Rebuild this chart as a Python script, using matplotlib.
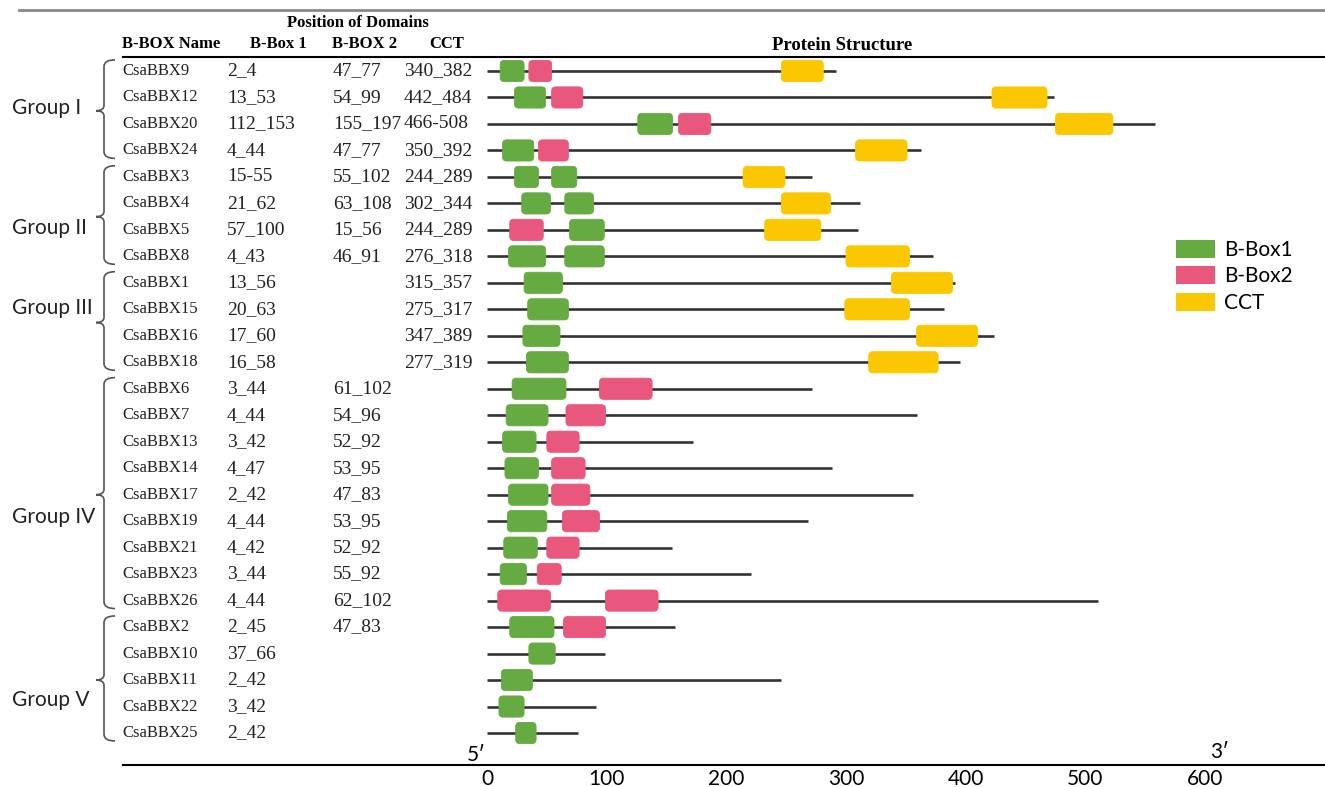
import numpy as np
import matplotlib
matplotlib.use("Agg")
import matplotlib.pyplot as plt
from matplotlib.patches import FancyBboxPatch, Patch, PathPatch
from matplotlib.path import Path
from matplotlib.lines import Line2D
import matplotlib.transforms as mtransforms

# table data
names = ["CsaBBX9", "CsaBBX12", "CsaBBX20", "CsaBBX24",
         "CsaBBX3", "CsaBBX4", "CsaBBX5", "CsaBBX8",
         "CsaBBX1", "CsaBBX15", "CsaBBX16", "CsaBBX18",
         "CsaBBX6", "CsaBBX7", "CsaBBX13", "CsaBBX14", "CsaBBX17",
         "CsaBBX19", "CsaBBX21", "CsaBBX23", "CsaBBX26",
         "CsaBBX2", "CsaBBX10", "CsaBBX11", "CsaBBX22", "CsaBBX25"]
box1_txt = ["2_4", "13_53", "112_153", "4_44",
            "15-55", "21_62", "57_100", "4_43",
            "13_56", "20_63", "17_60", "16_58",
            "3_44", "4_44", "3_42", "4_47", "2_42",
            "4_44", "4_42", "3_44", "4_44",
            "2_45", "37_66", "2_42", "3_42", "2_42"]
box2_txt = ["47_77", "54_99", "155_197", "47_77",
            "55_102", "63_108", "15_56", "46_91",
            "", "", "", "",
            "61_102", "54_96", "52_92", "53_95", "47_83",
            "53_95", "52_92", "55_92", "62_102",
            "47_83", "", "", "", ""]
cct_txt = ["340_382", "442_484", "466-508", "350_392",
           "244_289", "302_344", "244_289", "276_318",
           "315_357", "275_317", "347_389", "277_319",
           "", "", "", "", "", "", "", "", "",
           "", "", "", "", ""]

groups = ["Group I", "Group II", "Group III", "Group IV", "Group V"]
group_rows = [(0, 3), (4, 7), (8, 11), (12, 20), (21, 25)]

# protein structure as drawn (aa scale)
prot_len = [292, 474, 558, 363, 272, 312, 310, 373, 391, 382, 424, 395,
            272, 359, 172, 288, 356, 268, 155, 221, 511, 157, 99, 246, 91, 76]
green_dom = [[(11, 31)], [(23, 49)], [(126, 155)], [(13, 39)],
             [(23, 43), (54, 75)], [(29, 53), (65, 89)], [(69, 98)], [(18, 49), (65, 98)],
             [(31, 63)], [(34, 68)], [(30, 61)], [(33, 68)],
             [(21, 66)], [(16, 51)], [(13, 41)], [(15, 43)], [(18, 51)],
             [(17, 50)], [(14, 42)], [(11, 33)], [],
             [(19, 56)], [(35, 57)], [(12, 38)], [(10, 31)], [(24, 41)]]
pink_dom = [[(35, 54)], [(54, 80)], [(160, 187)], [(43, 68)],
            [], [], [(19, 47)], [],
            [], [], [], [],
            [(94, 138)], [(66, 99)], [(50, 77)], [(54, 82)], [(54, 86)],
            [(63, 94)], [(50, 77)], [(42, 62)], [(9, 53), (99, 143)],
            [(64, 99)], [], [], [], []]
cct_dom = [[(246, 281)], [(422, 468)], [(475, 523)], [(308, 351)],
           [(214, 249)], [(246, 287)], [(232, 279)], [(300, 353)],
           [(338, 389)], [(299, 353)], [(359, 410)], [(319, 377)]] + [[] for _ in range(14)]

GREEN = "#66AB41"
PINK = "#E9577C"
YELLOW = "#FBC700"

W, H = 1325, 787
fig = plt.figure(figsize=(W / 100, H / 100), dpi=100)

# axes from header line (57px) to bottom axis (765px)
ax = fig.add_axes([123 / W, 1 - 765 / H, (1325 - 123) / W, (765 - 57) / H])
xs = 718 / 600.0          # px per aa
ys = 26.48                # px per row
ax.set_xlim((123 - 487) / xs, (1325 - 487) / xs)
ax.set_ylim((765 - 71) / ys, (57 - 71) / ys)

rows = np.arange(len(names))
ax.hlines(rows, 0, prot_len, color="#333333", lw=1.9, zorder=1)

box_h = 0.8
rr = 4 / xs
for i in rows:
    for doms, col in ((green_dom[i], GREEN), (pink_dom[i], PINK), (cct_dom[i], YELLOW)):
        for s, e in doms:
            p = FancyBboxPatch((s, i - box_h / 2), e - s, box_h,
                               boxstyle=f"round,pad=0,rounding_size={rr}",
                               mutation_aspect=(4 / ys) / rr,
                               facecolor=col, edgecolor=col, lw=0.6, zorder=2)
            ax.add_patch(p)

for side in ["left", "right"]:
    ax.spines[side].set_visible(False)
ax.spines["top"].set_linewidth(1.5)
ax.spines["bottom"].set_linewidth(1.5)
ax.set_yticks([])
ax.set_xticks(range(0, 700, 100))
ax.set_xticklabels([str(v) for v in range(0, 700, 100)], family="Lato", fontsize=15)
ax.tick_params(axis="x", which="major", length=0, pad=3)
ax.set_xticks([0, 600], minor=True)
ax.tick_params(axis="x", which="minor", direction="in", length=5, width=1)
ax.text(-1, 0.0, "5\u2032", transform=ax.get_xaxis_transform(), ha="right", va="bottom",
        family=["Lato", "DejaVu Sans"], fontsize=15)
ax.text(604, 0.004, "3\u2032", transform=ax.get_xaxis_transform(), ha="left", va="bottom",
        family=["Lato", "DejaVu Sans"], fontsize=15)

# table text
tr = mtransforms.blended_transform_factory(fig.transFigure, ax.transData)
for i in rows:
    ax.text(122 / W, i, names[i], transform=tr, ha="left", va="center",
            family="Liberation Serif", fontsize=12, color="#222222")
    ax.text(227 / W, i, box1_txt[i], transform=tr, ha="left", va="center",
            family="Liberation Serif", fontsize=14, color="#222222")
    ax.text(333 / W, i, box2_txt[i], transform=tr, ha="left", va="center",
            family="Liberation Serif", fontsize=14, color="#222222")
    ax.text(404 / W, i, cct_txt[i], transform=tr, ha="left", va="center",
            family="Liberation Serif", fontsize=14, color="#222222")

hdr = dict(family="Liberation Serif", fontweight="bold", fontsize=12, va="center")
fig.text(358 / W, 1 - 23 / H, "Position of Domains", ha="center", **hdr)
fig.text(122 / W, 1 - 44 / H, "B-BOX Name", ha="left", **hdr)
fig.text(278 / W, 1 - 44 / H, "B-Box 1", ha="center", **hdr)
fig.text(365 / W, 1 - 44 / H, "B-BOX 2", ha="center", **hdr)
fig.text(447 / W, 1 - 44 / H, "CCT", ha="center", **hdr)
fig.text(842 / W, 1 - 46 / H, "Protein Structure", ha="center",
         family="Liberation Serif", fontweight="bold", fontsize=13.5, va="center")

# group braces and labels
label_shift = [-0.1, 0.43, -0.55, 0.84, 0.75]
xh, xv, xt = 115 / W, 104 / W, 96 / W
for g, (r0, r1), sh in zip(groups, group_rows, label_shift):
    ya, yb = r0 - 0.42, r1 + 0.3
    ym = (r0 + r1) / 2
    verts = [(xh, ya), (xv, ya), (xv, ya + 0.25),
             (xv, ym - 0.2),
             (xv, ym), (xt, ym),
             (xv, ym), (xv, ym + 0.2),
             (xv, yb - 0.25),
             (xv, yb), (xh, yb)]
    codes = [Path.MOVETO, Path.CURVE3, Path.CURVE3,
             Path.LINETO,
             Path.CURVE3, Path.CURVE3,
             Path.CURVE3, Path.CURVE3,
             Path.LINETO,
             Path.CURVE3, Path.CURVE3]
    ax.add_patch(PathPatch(Path(verts, codes), transform=tr, fill=False,
                           edgecolor="#555555", lw=1.2, clip_on=False))
    ax.text(12 / W, ym + sh, g, transform=tr, ha="left", va="center",
            family="Lato", fontsize=15, color="#222222")

# legend
handles = [Patch(facecolor=GREEN, label="B-Box1"),
           Patch(facecolor=PINK, label="B-Box2"),
           Patch(facecolor=YELLOW, label="CCT")]
ax.legend(handles=handles, loc="upper left", bbox_to_anchor=(1157 / W, 1 - 221 / H),
          bbox_transform=fig.transFigure, frameon=False, prop={"family": "Lato", "size": 15},
          handlelength=1.9, handleheight=0.95, labelspacing=0.3, handletextpad=0.4)

# top rule
fig.add_artist(Line2D([19 / W, 1.0], [1 - 10 / H, 1 - 10 / H], color="#888888", lw=2))

fig.savefig("out.png", dpi=100)
